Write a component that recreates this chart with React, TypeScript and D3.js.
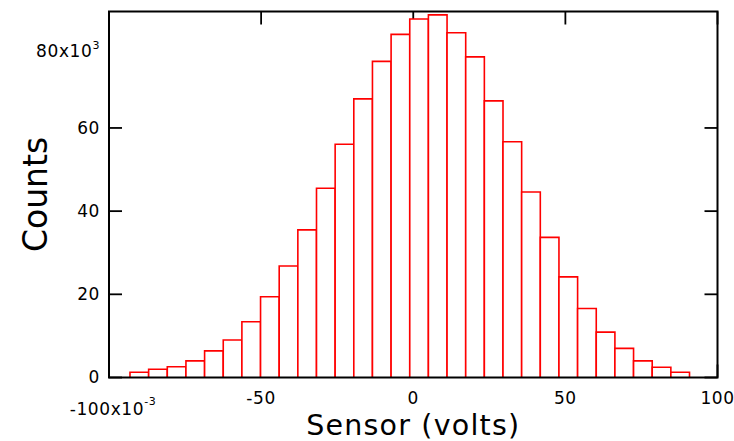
import React from "react";
import * as d3 from "d3";

// Histogram bins (units of 10^-3 volts) and counts (units of 10^3)
const binStart = -93.1;
const binWidth = 6.13;
const counts = [
  1.25, 2.0, 2.6, 4.0, 6.4, 9.0, 13.4, 19.4, 26.8, 35.5,
  45.5, 56.1, 67.0, 76.0, 82.5, 86.2, 87.2, 82.9, 77.1, 66.5,
  56.7, 44.6, 33.7, 24.2, 16.6, 10.9, 7.0, 4.0, 2.45, 1.25,
];
const xTicks = [-100, -50, 0, 50, 100];
const xTickLabels = ["-100", "-50", "0", "50", "100"];
const yTicks = [0, 20, 40, 60];
const yTickLabels = ["0", "20", "40", "60"];
const yExpLabel = "80";

const W = 734;
const H = 441;
const L = 109, R = 717.5, T = 11.5, B = 377.5;

export default function App() {
  const x = d3.scaleLinear().domain([-100, 100]).range([L, R]);
  const y = d3.scaleLinear().domain([0, 88]).range([B, T]);
  const tickLen = 13;
  const font = "'DejaVu Sans', sans-serif";

  const bars = counts.map((c, i) => {
    const x0 = x(binStart + i * binWidth);
    const x1 = x(binStart + (i + 1) * binWidth);
    const yt = y(c);
    return `M${x0},${B}V${yt}H${x1}V${B}`;
  });

  return (
    <svg width={W} height={H} style={{ position: "absolute", left: 0, top: 0, background: "#fff" }}>
      {/* ticks (beneath bars) */}
      <g stroke="#000" strokeWidth={1.8}>
        {xTicks.map((t) => (
          <g key={"xt" + t}>
            <line x1={x(t)} x2={x(t)} y1={B} y2={B - tickLen} />
            <line x1={x(t)} x2={x(t)} y1={T} y2={T + tickLen} />
          </g>
        ))}
        {yTicks.map((t) => (
          <g key={"yt" + t}>
            <line x1={L} x2={L + tickLen} y1={y(t)} y2={y(t)} />
            <line x1={R} x2={R - tickLen} y1={y(t)} y2={y(t)} />
          </g>
        ))}
      </g>
      {/* bars */}
      <g fill="#fff" stroke="#ff0000" strokeWidth={1.6}>
        {bars.map((d, i) => (
          <path key={i} d={d} />
        ))}
      </g>
      {/* frame */}
      <rect x={L} y={T} width={R - L} height={B - T} fill="none" stroke="#000" strokeWidth={2} />
      {/* y tick labels */}
      <g fontFamily={font} fontSize={17} fill="#000" textAnchor="end" letterSpacing={0.6}>
        {yTicks.map((t, i) => (
          <text key={t} x={L - 9} y={y(t)} dy="0.35em">
            {yTickLabels[i]}
          </text>
        ))}
        <text x={L - 9} y={y(80) + 6.5} dy="0.35em">
          {yExpLabel}x10
          <tspan fontSize={11} dy="-8">3</tspan>
        </text>
      </g>
      {/* x tick labels */}
      <g fontFamily={font} fontSize={17} fill="#000" textAnchor="middle" letterSpacing={0.6}>
        {xTicks.map((t, i) =>
          i === 0 ? (
            <text key={t} x={x(t) + 4} y={415}>
              {xTickLabels[i]}x10
              <tspan fontSize={11} dy="-10">-3</tspan>
            </text>
          ) : (
            <text key={t} x={x(t)} y={404}>
              {xTickLabels[i]}
            </text>
          )
        )}
      </g>
      {/* axis titles */}
      <text x={x(0)} y={435} fontFamily={font} fontSize={28.5} textAnchor="middle" fill="#000" letterSpacing={1.2}>
        Sensor (volts)
      </text>
      <text
        transform={`translate(47,${(T + B) / 2}) rotate(-90)`}
        fontFamily={font}
        fontSize={33}
        textAnchor="middle"
        fill="#000"
      >
        Counts
      </text>
    </svg>
  );
}
